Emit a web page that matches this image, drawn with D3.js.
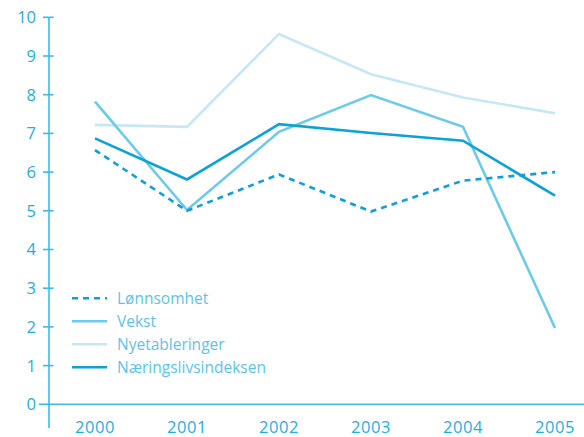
<!DOCTYPE html>
<html>
<head>
<meta charset="utf-8">
<script src="https://cdn.jsdelivr.net/npm/d3@7"></script>
<style>
  html, body { margin: 0; padding: 0; background: #fff; }
  svg { display: block; }
  text { font-family: "Open Sans", "DejaVu Sans", sans-serif; }
</style>
</head>
<body>
<svg id="chart" width="584" height="437"></svg>
<script>
// Indeksverdier per år
const years = ["2000", "2001", "2002", "2003", "2004", "2005"];
const yTicks = [0, 1, 2, 3, 4, 5, 6, 7, 8, 9, 10];

const lonnsomhet = [6.57, 5.0, 5.94, 4.98, 5.78, 6.0];
const vekst = [7.82, 5.02, 7.04, 7.99, 7.17, 1.97];
const nyetableringer = [7.22, 7.17, 9.57, 8.53, 7.93, 7.52];
const naeringslivsindeksen = [6.87, 5.81, 7.24, 7.01, 6.81, 5.39];

const seriesNames = ["Lønnsomhet", "Vekst", "Nyetableringer", "Næringslivsindeksen"];
const seriesColors = ["#0f9fd9", "#6ccaea", "#c6e8f5", "#0aa2d9"];
const seriesDash = ["6,5", null, null, null];

const series = seriesNames.map((name, i) => ({
  name,
  values: [lonnsomhet, vekst, nyetableringer, naeringslivsindeksen][i],
  color: seriesColors[i],
  dash: seriesDash[i]
}));

const svg = d3.select("#chart");
const axisColor = "#3cbbea";
const labelColor = "#1eaee6";

const x = d3.scalePoint().domain(years).range([95, 555]);
const y = d3.scaleLinear().domain([0, 10]).range([404.3, 17.3]);

// Y-akse
const yAxis = svg.append("g").attr("transform", "translate(49,0)");
yAxis.append("line")
  .attr("x1", 0).attr("x2", 0)
  .attr("y1", y(10)).attr("y2", 428)
  .attr("stroke", axisColor).attr("stroke-width", 1.6);
yAxis.selectAll("line.tick").data(yTicks.filter(d => d > 0)).join("line")
  .attr("class", "tick")
  .attr("x1", -6).attr("x2", 4.5)
  .attr("y1", d => y(d)).attr("y2", d => y(d))
  .attr("stroke", axisColor).attr("stroke-width", 1.6);
yAxis.selectAll("text").data(yTicks).join("text")
  .attr("x", -13).attr("y", d => y(d))
  .attr("dy", "0.36em")
  .attr("text-anchor", "end")
  .attr("fill", labelColor)
  .attr("font-size", 16.5)
  .text(d => d);

// X-akse (nullinje)
svg.append("line")
  .attr("x1", 39).attr("x2", 584)
  .attr("y1", y(0)).attr("y2", y(0))
  .attr("stroke", axisColor).attr("stroke-width", 1.6);
svg.append("g").selectAll("text").data(years).join("text")
  .attr("x", d => x(d)).attr("y", 433)
  .attr("text-anchor", "middle")
  .attr("fill", labelColor)
  .attr("font-size", 16.5)
  .attr("letter-spacing", 0.6)
  .text(d => d);

// Linjer
const line = d3.line()
  .x((d, i) => x(years[i]))
  .y(d => y(d));

const drawOrder = [2, 1, 3, 0];
svg.append("g").selectAll("path").data(drawOrder.map(i => series[i])).join("path")
  .attr("d", d => line(d.values))
  .attr("fill", "none")
  .attr("stroke", d => d.color)
  .attr("stroke-width", 2.6)
  .attr("stroke-dasharray", d => d.dash)
  .attr("stroke-linejoin", "miter");

// Tegnforklaring
const legend = svg.append("g").attr("transform", "translate(72,298.3)");
const item = legend.selectAll("g").data(series).join("g")
  .attr("transform", (d, i) => `translate(0,${i * 23})`);
item.append("line")
  .attr("x1", 0).attr("x2", 35)
  .attr("stroke", d => d.color)
  .attr("stroke-width", 2.6)
  .attr("stroke-dasharray", d => d.dash);
item.append("text")
  .attr("x", 45).attr("dy", "0.36em")
  .attr("fill", "#5cc4ec")
  .attr("font-size", 15.5)
  .text(d => d.name);
</script>
</body>
</html>
